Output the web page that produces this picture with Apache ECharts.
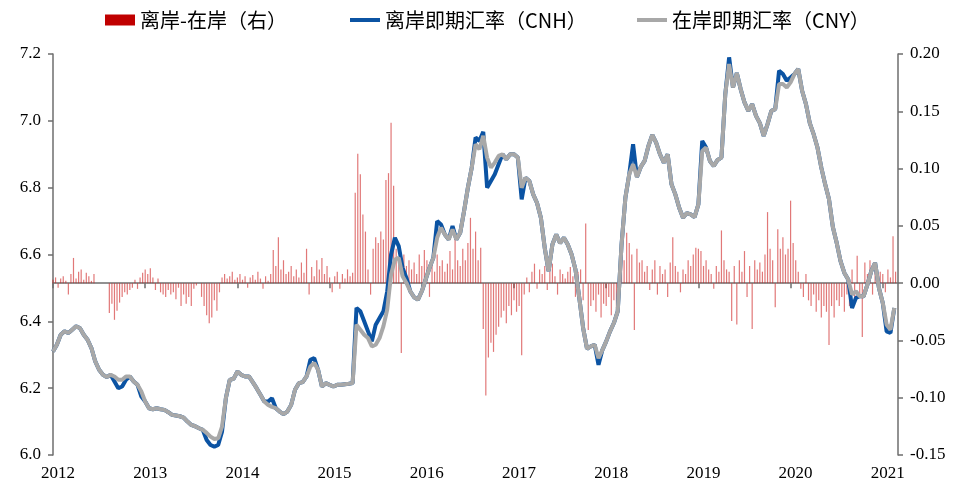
<!DOCTYPE html>
<html><head><meta charset="utf-8">
<script src="https://cdn.jsdelivr.net/npm/echarts@6/dist/echarts.min.js"></script>
<style>html,body{margin:0;padding:0;background:#fff}#c{width:965px;height:488px}</style>
</head><body><div id="c"></div>
<script>
// x positions: decimal years; lines sampled twice a month, spread bars 36 times a year
const startYear = 2012;
const lineStepsPerYear = 24;
const barStepsPerYear = 36;
const yearLabels = [2012, 2013, 2014, 2015, 2016, 2017, 2018, 2019, 2020, 2021];
const seriesNames = ['离岸-在岸（右）', '离岸即期汇率（CNH）', '在岸即期汇率（CNY）'];

const cny = [
6.31, 6.33, 6.36, 6.37, 6.365, 6.375, 6.385, 6.38, 6.36, 6.345,
6.32, 6.28, 6.255, 6.24, 6.233, 6.24, 6.235, 6.225, 6.225, 6.235,
6.235, 6.22, 6.21, 6.19, 6.16, 6.14, 6.137, 6.14, 6.137, 6.135,
6.128, 6.12, 6.118, 6.116, 6.112, 6.1, 6.09, 6.086, 6.08, 6.075,
6.066, 6.055, 6.048, 6.05, 6.085, 6.17, 6.225, 6.228, 6.25, 6.24,
6.235, 6.235, 6.218, 6.2, 6.18, 6.16, 6.15, 6.144, 6.14, 6.13,
6.122, 6.13, 6.15, 6.195, 6.215, 6.218, 6.235, 6.265, 6.275, 6.255,
6.205, 6.215, 6.21, 6.205, 6.21, 6.21, 6.212, 6.213, 6.215, 6.39,
6.375, 6.36, 6.35, 6.325, 6.33, 6.35, 6.385, 6.435, 6.54, 6.585,
6.59, 6.535, 6.515, 6.49, 6.472, 6.465, 6.49, 6.525, 6.56, 6.59,
6.65, 6.68, 6.66, 6.645, 6.675, 6.645, 6.665, 6.73, 6.8, 6.86,
6.93, 6.915, 6.955, 6.89, 6.86, 6.875, 6.895, 6.9, 6.885, 6.9,
6.9, 6.89, 6.8, 6.83, 6.82, 6.78, 6.754, 6.71, 6.62, 6.55,
6.63, 6.66, 6.634, 6.65, 6.63, 6.6, 6.555, 6.47, 6.38, 6.318,
6.325, 6.33, 6.29, 6.314, 6.34, 6.37, 6.395, 6.43, 6.63, 6.77,
6.84, 6.87, 6.832, 6.862, 6.88, 6.925, 6.958, 6.935, 6.9, 6.875,
6.9, 6.81, 6.78, 6.74, 6.71, 6.724, 6.72, 6.712, 6.75, 6.91,
6.92, 6.88, 6.865, 6.883, 6.89, 7.08, 7.17, 7.1, 7.143, 7.095,
7.055, 7.03, 7.05, 7.015, 6.993, 6.955, 6.99, 7.03, 7.035, 7.11,
7.11, 7.1, 7.115, 7.14, 7.155, 7.09, 7.05, 6.993, 6.96, 6.92,
6.86, 6.81, 6.765, 6.682, 6.635, 6.58, 6.545, 6.525, 6.48, 6.49,
6.475, 6.475, 6.51, 6.55, 6.575, 6.5, 6.455, 6.39, 6.375, 6.44
];

const cnh = [
6.31, 6.33, 6.36, 6.37, 6.365, 6.375, 6.385, 6.38, 6.36, 6.345,
6.32, 6.28, 6.255, 6.24, 6.233, 6.24, 6.22, 6.2, 6.205, 6.225,
6.235, 6.22, 6.21, 6.175, 6.16, 6.14, 6.137, 6.14, 6.137, 6.135,
6.128, 6.12, 6.118, 6.116, 6.112, 6.1, 6.09, 6.086, 6.08, 6.075,
6.045, 6.03, 6.025, 6.03, 6.07, 6.17, 6.225, 6.228, 6.25, 6.24,
6.235, 6.235, 6.218, 6.2, 6.18, 6.16, 6.16, 6.17, 6.14, 6.13,
6.122, 6.13, 6.15, 6.195, 6.215, 6.218, 6.235, 6.285, 6.29, 6.255,
6.205, 6.215, 6.21, 6.205, 6.21, 6.21, 6.212, 6.213, 6.215, 6.44,
6.43, 6.4, 6.37, 6.34, 6.39, 6.41, 6.43, 6.49, 6.6, 6.65,
6.625, 6.56, 6.53, 6.49, 6.472, 6.465, 6.49, 6.525, 6.56, 6.59,
6.7, 6.69, 6.66, 6.645, 6.685, 6.645, 6.665, 6.73, 6.8, 6.86,
6.95, 6.94, 6.967, 6.8, 6.82, 6.84, 6.87, 6.9, 6.885, 6.9,
6.9, 6.89, 6.765, 6.83, 6.82, 6.78, 6.754, 6.71, 6.62, 6.55,
6.63, 6.66, 6.634, 6.65, 6.63, 6.6, 6.555, 6.47, 6.38, 6.318,
6.325, 6.33, 6.27, 6.314, 6.34, 6.37, 6.395, 6.43, 6.63, 6.77,
6.84, 6.93, 6.832, 6.862, 6.88, 6.925, 6.958, 6.935, 6.9, 6.875,
6.9, 6.81, 6.78, 6.74, 6.71, 6.724, 6.72, 6.712, 6.75, 6.94,
6.92, 6.88, 6.865, 6.883, 6.89, 7.08, 7.19, 7.1, 7.143, 7.095,
7.055, 7.03, 7.05, 7.015, 6.993, 6.955, 6.99, 7.03, 7.035, 7.15,
7.14, 7.12, 7.13, 7.14, 7.155, 7.09, 7.05, 6.993, 6.96, 6.92,
6.86, 6.81, 6.765, 6.682, 6.635, 6.58, 6.545, 6.525, 6.44, 6.47,
6.475, 6.475, 6.51, 6.55, 6.575, 6.5, 6.455, 6.37, 6.365, 6.44
];

const spread = [
// 2012
0.003, 0.005, -0.004, 0.004, 0.006, 0.002, -0.01, 0.008, 0.022, 0.004, 0.01, 0.012, 0.003, 0.009, 0.006, 0.002, 0.008,
0, 0, 0, 0, 0,
-0.026, -0.018, -0.032, -0.024, -0.017, -0.012, -0.008, -0.01, -0.006, -0.004, 0.003, -0.005, 0.005, 0.009,
// 2013
0.012, 0.008, 0.013, 0.005, -0.006, 0.004, -0.008, -0.01, -0.012, -0.006, -0.01, -0.008, -0.014, -0.004, -0.02, -0.01, -0.018, -0.012, -0.02, -0.005, -0.002, 0.0,
-0.012, -0.02, -0.028, -0.035, -0.03, -0.015, -0.024, -0.008, 0.005, 0.008, 0.004, 0.006, 0.01, 0.003,
// 2014
0.005, 0.008, 0.003, 0.006, -0.004, 0.005, 0.007, 0.003, 0.01, 0.004, -0.005, 0.006, 0.002, 0.008, 0.029, 0.015, 0.04, 0.012,
0.02, 0.008, 0.01, 0.015, 0.006, 0.012, 0.005, 0.018, 0.009, 0.03, -0.01, 0.014, 0.006, 0.02, 0.012, 0.022, 0.008, 0.015,
// 2015
0.005, -0.008, 0.006, 0.01, -0.005, 0.008, 0.004, 0.012, 0.006, 0.009,
0.079, 0.113, 0.095, 0.06, 0.045, 0.012, -0.01, 0.03, 0.04, 0.035, 0.045, 0.038,
0.09, 0.096, 0.14, 0.085, 0.03, 0.02, -0.061, 0.025, 0.015, 0.02, 0.012, 0.018, 0.008, 0.025,
// 2016
0.015, 0.029, 0.02, -0.012, 0.018, 0.01, 0.025, 0.015, 0.02, 0.01, 0.017, 0.028, 0.012, 0.04, 0.02, 0.015, 0.03, 0.02,
0.035, 0.057, 0.03, 0.045, 0.02, 0.031, -0.04, -0.098, -0.065, -0.052, -0.06, -0.045, -0.038, -0.03, -0.024, -0.035, -0.02, -0.028,
// 2017
-0.015, -0.025, -0.02, -0.063, -0.01, 0.005, -0.008, 0.01, 0.017, -0.005, 0.012, 0.008, 0.015, -0.006, 0.01, 0.017, 0.006, -0.01,
0.012, 0.008, 0.004, 0.01, 0.014, 0.006, -0.012, 0.01, 0.012, -0.015, 0.052, -0.041, -0.02, -0.015, -0.025, -0.01, -0.03, -0.018,
// 2018
-0.02, -0.012, -0.028, -0.015, -0.022, -0.01, 0.03, 0.02, 0.044, 0.035, 0.025, -0.041, 0.03, 0.018, 0.02, 0.01, 0.015, -0.006,
0.012, 0.02, -0.01, 0.015, 0.008, 0.012, -0.012, 0.018, 0.04, 0.015, 0.01, -0.008, 0.012, 0.008, 0.02, 0.015, 0.025, 0.031,
// 2019
0.03, 0.028, 0.015, 0.02, 0.012, 0.008, -0.005, 0.015, 0.01, 0.046, 0.02, 0.012, 0.01, -0.033, 0.015, -0.036, 0.02, 0.01,
0.028, -0.012, 0.015, -0.04, 0.02, 0.012, 0.018, 0.01, 0.025, 0.062, 0.03, 0.02, -0.021, 0.047, 0.03, 0.04, 0.025, 0.03,
// 2020
0.072, 0.035, 0.02, 0.01, -0.005, -0.012, 0.008, -0.015, -0.02, -0.01, -0.025, -0.015, -0.03, -0.02, -0.025, -0.054, -0.02, -0.03,
-0.015, -0.02, -0.012, -0.025, -0.01, -0.02, 0.012, -0.015, 0.024, -0.01, -0.047, 0.018, 0.008, 0.02, -0.01, 0.012, 0.005, 0.01,
// 2021
0.008, -0.008, 0.012, 0.005, 0.041, 0.01
];

const toPairs = (arr, steps) => arr.map((v, i) => [startYear + i / steps, v]);

const axisFont = { fontFamily: 'Liberation Serif', fontSize: 17, color: '#000' };
const axisLineStyle = { lineStyle: { color: '#6e6e6e', width: 1.5 } };
const legendFont = { fontFamily: 'Noto Sans CJK SC', fontSize: 20, color: '#000' };

const chart = echarts.init(document.getElementById('c'), null, { renderer: 'canvas' });
chart.setOption({
  animation: false,
  backgroundColor: '#fff',
  grid: { left: 53, right: 67, top: 54, bottom: 33, containLabel: false },
  legend: [
    { data: [{ name: seriesNames[0], icon: 'rect', itemStyle: { color: '#C00000', opacity: 1 } }],
      left: 100, top: 5, itemWidth: 30, itemHeight: 11, textStyle: legendFont },
    { data: [{ name: seriesNames[1], icon: 'rect' }],
      left: 345, top: 5, itemWidth: 30, itemHeight: 4, textStyle: legendFont },
    { data: [{ name: seriesNames[2], icon: 'rect' }],
      left: 632, top: 5, itemWidth: 30, itemHeight: 4, textStyle: legendFont }
  ],
  xAxis: {
    type: 'value', min: 2012, max: 2021.165, interval: 1,
    axisLine: axisLineStyle,
    axisTick: { show: true, length: 5, lineStyle: { color: '#6e6e6e', width: 1.5 } },
    splitLine: { show: false },
    axisLabel: Object.assign({
      margin: 10, padding: [0, 0, 0, 10],
      formatter: v => (yearLabels.indexOf(Math.round(v)) >= 0 && Math.abs(v - Math.round(v)) < 1e-6) ? String(Math.round(v)) : '',
      showMaxLabel: false
    }, axisFont)
  },
  yAxis: [
    { type: 'value', min: 6.0, max: 7.2, interval: 0.2, position: 'left',
      axisLine: Object.assign({ show: true }, axisLineStyle),
      axisTick: { show: true, length: 5, lineStyle: { color: '#6e6e6e', width: 1.5 } },
      splitLine: { show: false },
      axisLabel: Object.assign({ margin: 12, formatter: v => v.toFixed(1) }, axisFont) },
    { type: 'value', min: -0.15, max: 0.2, interval: 0.05, position: 'right',
      axisLine: Object.assign({ show: true }, axisLineStyle),
      axisTick: { show: true, length: 5, lineStyle: { color: '#6e6e6e', width: 1.5 } },
      splitLine: { show: false },
      axisLabel: Object.assign({ margin: 12, formatter: v => v.toFixed(2) }, axisFont) }
  ],
  series: [
    { name: seriesNames[0], type: 'bar', yAxisIndex: 1, barWidth: 1.2,
      data: toPairs(spread, barStepsPerYear),
      itemStyle: { color: 'rgba(205,30,30,0.6)' }, z: 1 },
    { name: seriesNames[1], type: 'line', yAxisIndex: 0, symbol: 'none',
      data: toPairs(cnh, lineStepsPerYear),
      itemStyle: { color: '#0B53A3' }, lineStyle: { color: '#0B53A3', width: 4 }, z: 3 },
    { name: seriesNames[2], type: 'line', yAxisIndex: 0, symbol: 'none',
      data: toPairs(cny, lineStepsPerYear),
      itemStyle: { color: '#A8A8A8' }, lineStyle: { color: '#A8A8A8', width: 4 }, z: 4 }
  ]
});
</script></body></html>
